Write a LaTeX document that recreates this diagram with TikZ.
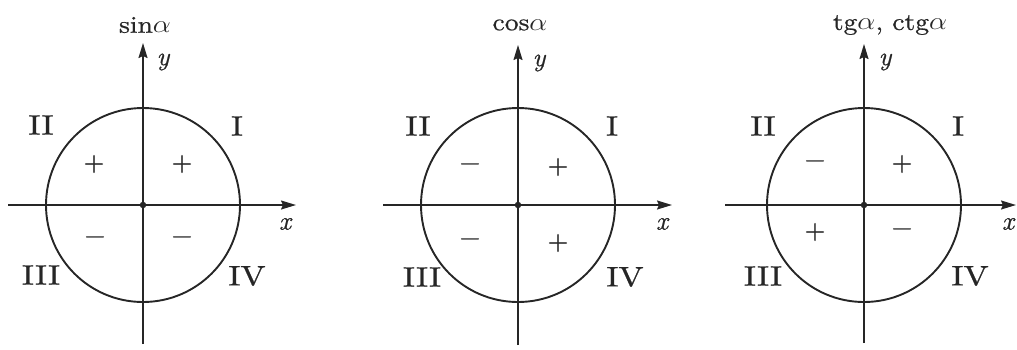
\documentclass[tikz,border=0pt]{standalone}
\usepackage{graphicx}
\usepackage{fontspec}
\newfontfamily\heavy{lmroman10-regular.otf}[FakeBold=0.7, ItalicFont=lmroman10-italic.otf]
\newfontfamily\medium{lmroman10-regular.otf}[FakeBold=0.4]
\usetikzlibrary{arrows.meta}
\definecolor{ink}{HTML}{262626}
\newcommand\wideq[1]{\scalebox{1.2}[1]{#1}}
\newcommand\widet[1]{\scalebox{1.15}[1]{#1}}
\begin{document}
\begin{tikzpicture}[x=1pt,y=-1pt,
  ink,
  axis/.style={line width=1.5pt, draw=ink, -{Stealth[length=15pt,width=9pt,inset=2pt]}},
  unit/.style={line width=1.9pt, draw=ink},
  origin/.style={circle, fill=ink, inner sep=0pt, minimum size=6.5pt},
  quad/.style={text=ink, inner sep=0pt, font=\heavy\fontsize{28}{32}\selectfont},
  sgn/.style={text=ink, inner sep=0pt, font=\medium\fontsize{27}{32}\selectfont},
  axlabel/.style={text=ink, inner sep=0pt, font=\heavy\itshape\fontsize{26}{30}\selectfont},
  title/.style={text=ink, inner sep=0pt, font=\heavy\fontsize{24}{28}\selectfont}]
\useasboundingbox (0,0) rectangle (1017,349);

% ---------- sin ----------
\coordinate (o1) at (143,205);
\coordinate (w1) at (8,205);  \coordinate (e1) at (296,205);
\coordinate (s1) at (143,344); \coordinate (n1) at (143,43);
\draw[unit] (o1) circle[radius=97];
\draw[axis] (w1) -- (e1);
\draw[axis] (s1) -- (n1);
\node[origin] (O1) at (o1) {};
\node[title] (t1) at (145,25) {\widet{sin$\alpha$}};
\node[axlabel] (y1) at (163,62) {y};
\node[axlabel] (x1) at (285,224) {x};
\node[quad] (q1a) at (237,126) {\wideq{I}};
\node[quad] (q1b) at (41,125) {\wideq{II}};
\node[quad] (q1c) at (41,275) {\wideq{III}};
\node[quad] (q1d) at (247,276) {\wideq{IV}};
\node[sgn] (p1a) at (182,164) {+};
\node[sgn] (p1b) at (94,164) {+};
\node[sgn] (p1c) at (95,240) {−};
\node[sgn] (p1d) at (182,240) {−};

% ---------- cos ----------
\coordinate (o2) at (518,205);
\coordinate (w2) at (383,205);  \coordinate (e2) at (672,205);
\coordinate (s2) at (518,345); \coordinate (n2) at (518,45);
\draw[unit] (o2) circle[radius=97];
\draw[axis] (w2) -- (e2);
\draw[axis] (s2) -- (n2);
\node[origin] (O2) at (o2) {};
\node[title] (t2) at (520,25) {\widet{cos$\alpha$}};
\node[axlabel] (y2) at (539,63) {y};
\node[axlabel] (x2) at (662,224) {x};
\node[quad] (q2a) at (612,126) {\wideq{I}};
\node[quad] (q2b) at (418,126) {\wideq{II}};
\node[quad] (q2c) at (422,277) {\wideq{III}};
\node[quad] (q2d) at (625,277) {\wideq{IV}};
\node[sgn] (p2a) at (558,167) {+};
\node[sgn] (p2b) at (470,167) {−};
\node[sgn] (p2c) at (470,242) {−};
\node[sgn] (p2d) at (558,243) {+};

% ---------- tg, ctg ----------
\coordinate (o3) at (864,205);
\coordinate (w3) at (725,205);  \coordinate (e3) at (1016,205);
\coordinate (s3) at (864,343); \coordinate (n3) at (864,44);
\draw[unit] (o3) circle[radius=97];
\draw[axis] (w3) -- (e3);
\draw[axis] (s3) -- (n3);
\node[origin] (O3) at (o3) {};
\node[title] (t3) at (890,25) {\widet{tg$\alpha$, ctg$\alpha$}};
\node[axlabel] (y3) at (885,62) {y};
\node[axlabel] (x3) at (1008,224) {x};
\node[quad] (q3a) at (958,126) {\wideq{I}};
\node[quad] (q3b) at (763,126) {\wideq{II}};
\node[quad] (q3c) at (763,276) {\wideq{III}};
\node[quad] (q3d) at (970,276) {\wideq{IV}};
\node[sgn] (p3a) at (902,164) {+};
\node[sgn] (p3b) at (815,164) {−};
\node[sgn] (p3c) at (815,232) {+};
\node[sgn] (p3d) at (902,232) {−};
\end{tikzpicture}
\end{document}
